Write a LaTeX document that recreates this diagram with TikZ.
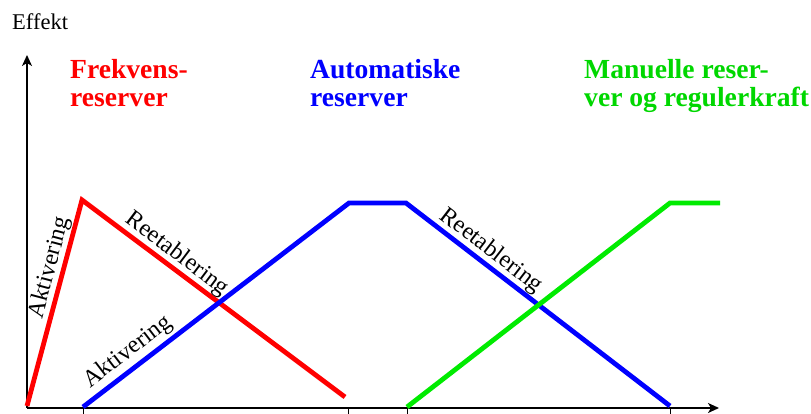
\documentclass[tikz,border=0pt]{standalone}
\usepackage{fontspec}
\setmainfont{Liberation Serif}
\usetikzlibrary{arrows.meta}
\definecolor{cred}{RGB}{255,0,0}
\definecolor{cblue}{RGB}{0,0,255}
\definecolor{cgreen}{RGB}{0,235,0}
\definecolor{cgreentext}{RGB}{0,215,0}
\tikzset{
  axisline/.style={line width=1.6pt, -{Stealth[length=11pt,width=10pt,inset=3pt]}},
  tickmark/.style={line width=1pt},
  curve/.style={line width=4.8pt, line join=miter},
  title/.style={font=\bfseries\fontsize{27.6}{28.5}\selectfont, align=left, anchor=north west, inner sep=0pt},
  lbl/.style={font=\fontsize{24}{26}\selectfont, inner sep=0pt},
}
\begin{document}
\begin{tikzpicture}[x=1pt,y=-1pt]
\useasboundingbox (0,0) rectangle (811,414);
% axes
\coordinate (O) at (27,408);
\coordinate (ytip) at (27,55);
\coordinate (xtip) at (719,408);
\draw[axisline] (O) -- (ytip);
\draw[axisline] (O) -- (xtip);
% ticks
\foreach \t/\x in {t1/83,t2/348,t3/407,t4/670}{
  \coordinate (\t) at (\x,408);
  \draw[tickmark] (\t) -- ++(0,6);
}
% red
\coordinate (r0) at (27,406);
\coordinate (r1) at (82,200);
\coordinate (r2) at (345,397);
\draw[curve, cred] (r0) -- (r1) -- (r2);
% blue
\coordinate (b0) at (83,407);
\coordinate (b1) at (349,203);
\coordinate (b2) at (406,203);
\coordinate (b3) at (670,406);
\draw[curve, cblue] (b0) -- (b1) -- (b2) -- (b3);
% green
\coordinate (g0) at (407,407);
\coordinate (g1) at (670,203);
\coordinate (g2) at (720,203);
\draw[curve, cgreen] (g0) -- (g1) -- (g2);
% texts
\node[font=\fontsize{22.5}{24}\selectfont, anchor=base west, inner sep=0pt] (effekt) at (12,30) {Effekt};
\node[title, text=cred] (frek) at (70,59) {Frekvens-\\reserver};
\node[title, text=cblue] (auto) at (310,59) {Automatiske\\reserver};
\node[title, text=cgreentext] (manu) at (584,59) {Manuelle reser-\\ver og regulerkraft};
% rotated labels
\node[lbl, rotate=75] (ra) at (50,268) {Aktivering};
\node[lbl, rotate=-37] (rr) at (177,254) {Reetablering};
\node[lbl, rotate=37.5] (ba) at (128,352) {Aktivering};
\node[lbl, rotate=-37.6] (br) at (491,251) {Reetablering};
\end{tikzpicture}
\end{document}
